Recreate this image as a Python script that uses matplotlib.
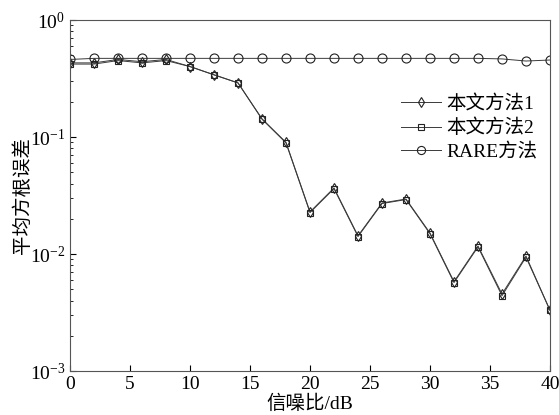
import numpy as np
import matplotlib
matplotlib.use('Agg')
import matplotlib.pyplot as plt

plt.rcParams['font.family'] = ['Liberation Serif', 'Noto Sans CJK SC']
plt.rcParams['mathtext.fontset'] = 'custom'
plt.rcParams['mathtext.rm'] = 'Liberation Serif'
plt.rcParams['mathtext.it'] = 'Liberation Serif'

# ---- data ----
snr = np.arange(0, 42, 2)
rmse_m1 = [0.43, 0.43, 0.46, 0.44, 0.46, 0.40, 0.34, 0.29, 0.143, 0.090, 0.0229,
           0.0367, 0.0143, 0.0273, 0.0295, 0.0151, 0.0058, 0.0117, 0.00455, 0.0096, 0.0033]
rmse_m2 = [0.42, 0.42, 0.45, 0.43, 0.45, 0.40, 0.34, 0.29, 0.142, 0.089, 0.0226,
           0.0362, 0.0141, 0.0270, 0.0292, 0.0149, 0.0057, 0.0115, 0.0044, 0.0094, 0.0033]
rmse_rare = [0.46, 0.47, 0.47, 0.47, 0.47, 0.47, 0.47, 0.47, 0.47, 0.47, 0.47,
             0.47, 0.47, 0.47, 0.47, 0.47, 0.47, 0.47, 0.465, 0.446, 0.455]
labels = ['本文方法1', '本文方法2', 'RARE方法']

fig = plt.figure(figsize=(5.59, 4.15), dpi=100)
ax = fig.add_axes([70/559, 1 - 371/415, 480/559, 351/415])

lw = 0.7
ax.semilogy(snr, rmse_m1, '-', color='#3a3a3a', lw=lw, marker='d', ms=5.5,
            mfc='none', mec='#222222', mew=0.8, label=labels[0])
ax.semilogy(snr, rmse_m2, '-', color='#3a3a3a', lw=lw, marker='s', ms=4.5,
            mfc='none', mec='#222222', mew=0.8, label=labels[1])
ax.semilogy(snr, rmse_rare, '-', color='#3a3a3a', lw=lw, marker='o', ms=6.5,
            mfc='none', mec='#222222', mew=0.8, label=labels[2])

ax.set_xlim(0, 40)
ax.set_ylim(1e-3, 1)
ax.set_xticks(np.arange(0, 45, 5))
ax.tick_params(which='both', direction='in', top=False, right=False, labelsize=14)
ax.tick_params(which='major', length=4)
ax.tick_params(which='minor', length=2)
for s in ax.spines.values():
    s.set_color('#555555')
    s.set_linewidth(0.8)

ax.set_xlabel('信噪比/dB', fontsize=14, labelpad=1)
ax.set_ylabel('平均方根误差', fontsize=14, labelpad=-2)

leg = ax.legend(loc='upper right', bbox_to_anchor=(0.99, 0.81), frameon=False,
                fontsize=14, handlelength=2.1, handletextpad=0.25, labelspacing=0.3,
                borderaxespad=0, markerscale=0.9)

fig.savefig('out.png', dpi=100)
